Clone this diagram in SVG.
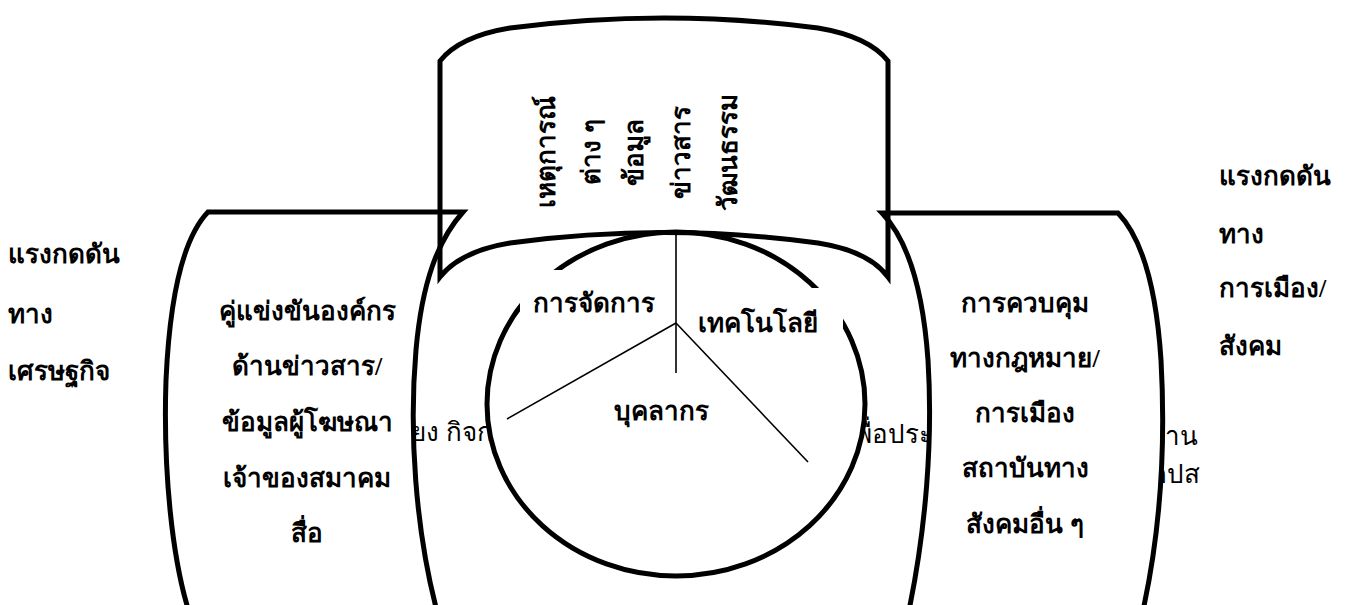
<svg xmlns="http://www.w3.org/2000/svg" width="1352" height="605" viewBox="0 0 1352 605">
  <style>
    .fill { fill: #fff; stroke: none; }
    .edge { fill: none; stroke: #000; stroke-width: 5; stroke-linejoin: miter; stroke-miterlimit: 10; }
    .spoke { fill: none; stroke: #000; stroke-width: 1.6; }
    .box { fill: #fff; stroke: none; }
    text { font-family: "Liberation Serif", serif; fill: #000; }
    .b { font-weight: bold; font-size: 26px; }
    .r { font-size: 26px; }
    .mid { text-anchor: middle; }
  </style>
  <defs>
    <path id="topShape" d="M440,277 L440,61 C455,42 480,33 510,28 Q664,8 818,28 C848,33 873,42 888,61 L888,277 C874,258 850,248 818,243 Q664,222 510,243 C480,248 455,258 440,277 Z"/>
    <path id="leftShape" d="M463,212 L208,212 C185,236 170,292 166,380 C163,470 172,560 190,615 L438,615 C415,530 409,430 416,350 C422,282 438,240 463,212 Z"/>
    <path id="rightShape" d="M882,213 L1118,213 C1141,237 1156,284 1161,360 C1166,450 1160,535 1142,615 L908,615 C926,530 933,440 928,360 C923,290 908,240 882,213 Z"/>
  </defs>

  <!-- text lying under the shapes, only partly showing -->
  <g id="hidden-text" class="r">
    <text x="411" y="441">ยง กิจกร</text>
    <text x="933" y="443" text-anchor="end">เพื่อประ</text>
    <text x="1198" y="445" text-anchor="end">งาน</text>
    <text x="1200" y="483" text-anchor="end">กปส</text>
  </g>

  <!-- white bodies -->
  <g id="bodies">
    <use href="#topShape" class="fill"/>
    <use href="#leftShape" class="fill"/>
    <use href="#rightShape" class="fill"/>
    <ellipse cx="676" cy="404" rx="189" ry="172" class="fill"/>
  </g>

  <!-- outlines -->
  <g id="outlines">
    <use href="#topShape" class="edge"/>
    <use href="#leftShape" class="edge"/>
    <use href="#rightShape" class="edge"/>
    <ellipse cx="676" cy="404" rx="189" ry="172" class="edge"/>
  </g>

  <!-- dividers inside the circle -->
  <g id="connectors">
    <line x1="676" y1="232" x2="676" y2="373" class="spoke"/>
    <line x1="676" y1="323" x2="507" y2="419" class="spoke"/>
    <line x1="676" y1="323" x2="808" y2="462" class="spoke"/>
  </g>

  <g id="node-top">
    <g class="b mid">
      <text transform="translate(555,152) rotate(-90)">เหตุการณ์</text>
      <text transform="translate(600,152) rotate(-90)">ต่าง ๆ</text>
      <text transform="translate(643,152) rotate(-90)">ข้อมูล</text>
      <text transform="translate(690,152) rotate(-90)">ข่าวสาร</text>
      <text transform="translate(737,152) rotate(-90)">วัฒนธรรม</text>
    </g>
  </g>

  <g id="node-left">
    <g class="b mid">
      <text x="307" y="320">คู่แข่งขันองค์กร</text>
      <text x="307" y="375">ด้านข่าวสาร/</text>
      <text x="307" y="431">ข้อมูลผู้โฆษณา</text>
      <text x="307" y="487">เจ้าของสมาคม</text>
      <text x="307" y="542">สื่อ</text>
    </g>
  </g>

  <g id="node-right">
    <g class="b mid">
      <text x="1025" y="312">การควบคุม</text>
      <text x="1025" y="367">ทางกฎหมาย/</text>
      <text x="1025" y="422">การเมือง</text>
      <text x="1025" y="477">สถาบันทาง</text>
      <text x="1025" y="533">สังคมอื่น ๆ</text>
    </g>
  </g>

  <g id="node-management">
    <rect x="520" y="270" width="140" height="50" class="box"/>
    <text x="594" y="312" class="b mid">การจัดการ</text>
  </g>
  <g id="node-technology">
    <rect x="700" y="288" width="143" height="50" class="box"/>
    <text x="758" y="332" class="b mid">เทคโนโลยี</text>
  </g>
  <g id="node-personnel">
    <text x="661" y="420" class="b mid">บุคลากร</text>
  </g>

  <g id="label-economic" class="b">
    <text x="8" y="263">แรงกดดัน</text>
    <text x="8" y="323">ทาง</text>
    <text x="8" y="380">เศรษฐกิจ</text>
  </g>
  <g id="label-political" class="b">
    <text x="1219" y="185">แรงกดดัน</text>
    <text x="1219" y="243">ทาง</text>
    <text x="1219" y="297">การเมือง/</text>
    <text x="1219" y="355">สังคม</text>
  </g>
</svg>
